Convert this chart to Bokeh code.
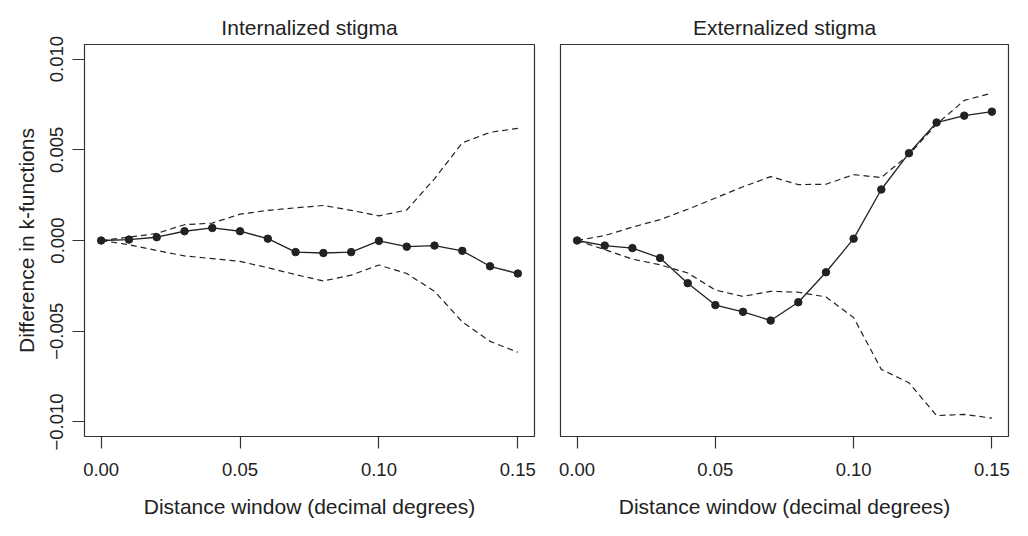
from bokeh.plotting import figure
from bokeh.layouts import row
from bokeh.models import Range1d, FixedTicker, CustomJSTickFormatter
from bokeh.embed import file_html
from bokeh.resources import INLINE

# ---- data ----
distance = [0.00, 0.01, 0.02, 0.03, 0.04, 0.05, 0.06, 0.07,
            0.08, 0.09, 0.10, 0.11, 0.12, 0.13, 0.14, 0.15]

int_obs = [0.0, 0.00005, 0.00018, 0.00051, 0.00069, 0.00051, 0.0001, -0.00064,
           -0.00069, -0.00064, -0.00002, -0.00034, -0.00028, -0.00057, -0.00142, -0.00182]
int_upper = [0.0, 0.00018, 0.00039, 0.00087, 0.00096, 0.00145, 0.00166, 0.0018,
             0.00193, 0.00166, 0.00136, 0.00168, 0.0034, 0.00538, 0.00596, 0.00618]
int_lower = [0.0, -0.00023, -0.00055, -0.00085, -0.001, -0.00115, -0.0015, -0.00188,
             -0.00223, -0.00191, -0.00135, -0.00182, -0.0028, -0.00448, -0.00556, -0.00616]

ext_obs = [0.0, -0.00028, -0.00042, -0.00096, -0.00235, -0.00356, -0.00393, -0.00441,
           -0.0034, -0.00175, 0.0001, 0.00281, 0.00481, 0.0065, 0.00688, 0.0071]
ext_upper = [0.0, 0.00027, 0.00074, 0.00115, 0.00172, 0.00234, 0.00296, 0.00352,
             0.00308, 0.0031, 0.00363, 0.00347, 0.00473, 0.00641, 0.00772, 0.00812]
ext_lower = [0.0, -0.0005, -0.00103, -0.00134, -0.00179, -0.00273, -0.00308, -0.0028,
             -0.00285, -0.00311, -0.00425, -0.0071, -0.00784, -0.00965, -0.00958, -0.00979]

titles = ["Internalized stigma", "Externalized stigma"]
x_ticks = [0.0, 0.05, 0.10, 0.15]
y_ticks = [-0.01, -0.005, 0.0, 0.005, 0.01]
x_label = "Distance window (decimal degrees)"
y_label = "Difference in k-functions"

FONT = "Liberation Sans"
INK = "#222222"

x_range = Range1d(-0.006, 0.156)
y_range = Range1d(-0.0108, 0.0108)


def make_panel(title, obs, upper, lower, with_y):
    kw = dict(
        width=538 if with_y else 474,
        height=520,
        x_range=x_range, y_range=y_range,
        output_backend="svg", toolbar_location=None,
        min_border_top=44, min_border_bottom=74,
        min_border_left=84 if with_y else 22,
        min_border_right=4,
    )
    if not with_y:
        kw["y_axis_location"] = None
    p = figure(**kw)
    p.title.text = title
    p.title.align = "center"
    p.title.text_font = FONT
    p.title.text_font_size = "21px"
    p.title.text_font_style = "normal"
    p.title.text_color = INK
    p.title.standoff = 12

    p.grid.visible = False
    p.background_fill_color = "white"
    p.border_fill_color = "white"
    p.outline_line_color = "#333333"
    p.outline_line_width = 1.2
    p.outline_line_alpha = 1.0

    axes = [p.xaxis[0]] + ([p.yaxis[0]] if with_y else [])
    for ax in axes:
        ax.axis_line_color = None
        ax.major_tick_out = 12
        ax.major_tick_in = 0
        ax.major_tick_line_color = "#333333"
        ax.major_tick_line_width = 1.2
        ax.minor_tick_line_color = None
        ax.major_label_text_font = FONT
        ax.major_label_text_font_size = "18.5px"
        ax.major_label_text_color = INK
        ax.axis_label_text_font = FONT
        ax.axis_label_text_font_size = "21px"
        ax.axis_label_text_font_style = "normal"
        ax.axis_label_text_color = INK

    xa = p.xaxis[0]
    xa.ticker = FixedTicker(ticks=x_ticks)
    xa.formatter = CustomJSTickFormatter(code="return tick.toFixed(2);")
    xa.axis_label = x_label
    xa.major_label_standoff = 14
    xa.axis_label_standoff = 16

    if with_y:
        ya = p.yaxis[0]
        ya.ticker = FixedTicker(ticks=y_ticks)
        ya.formatter = CustomJSTickFormatter(
            code="var s = Math.abs(tick).toFixed(3); return (tick < -1e-9 ? '\u2212' : '') + s;")
        ya.major_label_orientation = "parallel"
        ya.axis_label = y_label
        ya.major_label_standoff = 9
        ya.axis_label_standoff = 10

    p.line(distance, upper, line_color=INK, line_width=1.2, line_dash="6 4")
    p.line(distance, lower, line_color=INK, line_width=1.2, line_dash="6 4")
    p.line(distance, obs, line_color=INK, line_width=1.3)
    p.scatter(distance, obs, size=7.5, fill_color=INK, line_color=INK)
    return p


p1 = make_panel(titles[0], int_obs, int_upper, int_lower, True)
p2 = make_panel(titles[1], ext_obs, ext_upper, ext_lower, False)

layout = row(p1, p2)
open("out.html", "w").write(file_html(layout, INLINE))
